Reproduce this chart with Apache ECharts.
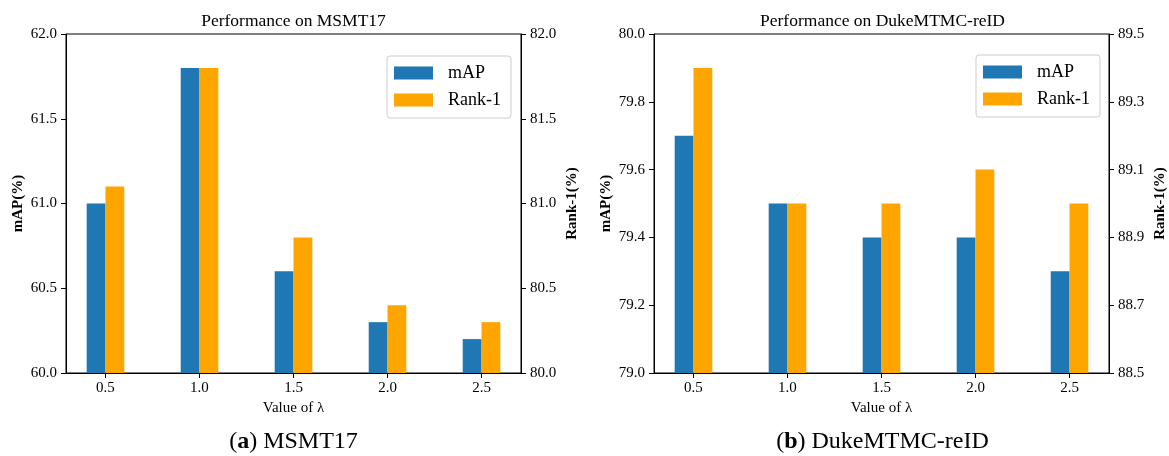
<!DOCTYPE html>
<html>
<head>
<meta charset="utf-8">
<script src="https://cdn.jsdelivr.net/npm/echarts@6/dist/echarts.min.js"></script>
<style>
html,body{margin:0;padding:0;background:#fff;}
#c{width:1169px;height:456px;}
</style>
</head>
<body>
<div id="c"></div>
<script>
// ---- data ----
const lambdas = [0.5, 1.0, 1.5, 2.0, 2.5];
const msmtMAP = [61.0, 61.8, 60.6, 60.3, 60.2];
const msmtRank1 = [81.1, 81.8, 80.8, 80.4, 80.3];
const dukeMAP = [79.7, 79.5, 79.4, 79.4, 79.3];
const dukeRank1 = [89.4, 89.0, 89.0, 89.1, 89.0];
const seriesNames = ['mAP', 'Rank-1'];
const chartTitles = ['Performance on MSMT17', 'Performance on DukeMTMC-reID'];
const captionNames = ['MSMT17', 'DukeMTMC-reID'];
const captionLetters = ['a', 'b'];
const xName = 'Value of λ';
const yNames = ['mAP(%)', 'Rank-1(%)'];

const FONT = '"Liberation Serif", "Times New Roman", serif';
const BLUE = '#1f77b4', ORANGE = '#ffa500';

const grids = [
  {left: 66, top: 34, width: 455, height: 339},
  {left: 654, top: 34, width: 457, height: 339}
];
const yRanges = [
  [{min: 60, max: 62, interval: 0.5}, {min: 80, max: 82, interval: 0.5}],
  [{min: 79, max: 80, interval: 0.2}, {min: 88.5, max: 89.5, interval: 0.2}]
];

function zip(xs, ys) { return xs.map((x, i) => [x, ys[i]]); }

const axisLineStyle = {show: true, lineStyle: {color: '#000', width: 1}};
const tickStyle = {show: true, length: 5, lineStyle: {color: '#000', width: 1}};

const xAxes = grids.map((g, gi) => ({
  type: 'value', gridIndex: gi, min: 0.29, max: 2.71,
  name: xName, nameLocation: 'middle', nameGap: 28,
  nameTextStyle: {fontFamily: FONT, fontSize: 15, color: '#000'},
  axisLine: Object.assign({onZero: false}, axisLineStyle),
  axisTick: Object.assign({customValues: lambdas}, tickStyle),
  axisLabel: {customValues: lambdas, formatter: v => v.toFixed(1), fontFamily: FONT, fontSize: 15, color: '#000', margin: 8},
  splitLine: {show: false}
}));

const yAxes = [];
grids.forEach((g, gi) => {
  [0, 1].forEach(side => {
    const r = yRanges[gi][side];
    yAxes.push({
      type: 'value', gridIndex: gi, position: side === 0 ? 'left' : 'right',
      min: r.min, max: r.max, interval: r.interval,
      name: yNames[side], nameLocation: 'middle', nameGap: side === 0 ? 40 : 44, nameRotate: 90,
      nameTextStyle: {fontFamily: FONT, fontSize: 15, fontWeight: 'bold', color: '#000'},
      axisLine: axisLineStyle, axisTick: tickStyle,
      axisLabel: {formatter: v => v.toFixed(1), fontFamily: FONT, fontSize: 15, color: '#000', margin: 9},
      splitLine: {show: false}
    });
  });
});

const allData = [[msmtMAP, msmtRank1], [dukeMAP, dukeRank1]];
const series = [];
allData.forEach((pair, gi) => {
  pair.forEach((vals, si) => {
    series.push({
      name: seriesNames[si], type: 'bar',
      xAxisIndex: gi, yAxisIndex: gi * 2 + si,
      data: zip(lambdas, vals),
      barWidth: '20%', barGap: '0%',
      itemStyle: {color: si === 0 ? BLUE : ORANGE},
      emphasis: {disabled: true}
    });
  });
});

const legends = [{left: 387, top: 56}, {left: 976, top: 55}].map(p => ({
  left: p.left, top: p.top, orient: 'vertical',
  data: seriesNames, icon: 'rect', itemWidth: 39, itemHeight: 13, itemGap: 9,
  padding: [8, 10, 9, 7],
  borderColor: '#cccccc', borderWidth: 1, borderRadius: 3, backgroundColor: '#fff',
  textStyle: {fontFamily: FONT, fontSize: 18, color: '#000', padding: [0, 0, 0, 10]},
  selectedMode: false
}));

const graphics = [];
grids.forEach((g, gi) => {
  const cx = g.left + g.width / 2;
  graphics.push({
    type: 'text', x: cx, y: 21,
    style: {text: chartTitles[gi], font: '17.5px ' + FONT, fill: '#000', textAlign: 'center', textVerticalAlign: 'middle'}
  });
  graphics.push({
    type: 'text', x: cx, y: 442,
    style: {
      text: '(' + '{b|' + captionLetters[gi] + '}' + ') ' + captionNames[gi],
      font: '24px ' + FONT, fill: '#000', textAlign: 'center', textVerticalAlign: 'middle',
      rich: {b: {fontFamily: FONT, fontSize: 24, fontWeight: 'bold', fill: '#000'}}
    }
  });
});

const chart = echarts.init(document.getElementById('c'));
chart.setOption({
  animation: false,
  backgroundColor: '#fff',
  grid: grids.map(g => Object.assign({show: true, borderColor: '#000', borderWidth: 1, backgroundColor: 'transparent'}, g)),
  xAxis: xAxes,
  yAxis: yAxes,
  legend: legends,
  series: series,
  graphic: graphics
});
</script>
</body>
</html>
